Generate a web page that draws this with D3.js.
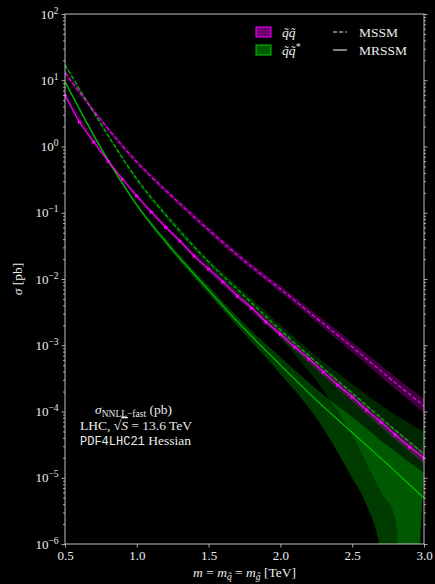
<!DOCTYPE html>
<html>
<head>
  <meta charset='utf-8'>
  <title>Cross sections</title>
  <script src="https://cdnjs.cloudflare.com/ajax/libs/d3/7.8.5/d3.min.js"></script>
  <style>
    body { margin: 0; background: #000; }
    svg { display: block; background: #000; }
    .lbl { fill: #ececec; font-family: 'Liberation Serif', serif; }
  </style>
</head>
<body>
  <svg id="chart" width="435" height="584"></svg>
  <script>
    // mass grid (TeV) shared by most of the curves
    const massGrid = [0.5, 0.75, 1.0, 1.25, 1.5, 1.75, 2.0, 2.25, 2.5, 2.75, 3.0];
    // finer grid for the MRSSM squark-squark curve (it carries markers)
    const massFine = [0.5, 0.6, 0.7, 0.8, 0.9, 1.0, 1.1, 1.2, 1.3, 1.4, 1.5, 1.6, 1.7,
                      1.8, 1.9, 2.0, 2.1, 2.2, 2.3, 2.4, 2.5, 2.6, 2.7, 2.8, 2.9, 3.0];

    // squark-squark, MRSSM (solid magenta), pb
    const sqsqMRSSM = [5.99, 2.34, 1.17, 0.604, 0.323, 0.179, 0.103, 0.0610, 0.0375, 0.0222,
                       0.0142, 0.00902, 0.00553, 0.00365, 0.00224, 0.00148, 9.42e-4, 6.20e-4,
                       3.94e-4, 2.51e-4, 1.66e-4, 1.05e-4, 6.95e-5, 4.42e-5, 2.91e-5, 1.99e-5];
    const sqsqMRSSMHi = [6.53, 0.918, 0.195, 0.0521, 0.0158, 0.0050, 0.00167, 5.68e-4, 1.94e-4, 6.58e-5, 2.45e-5];
    const sqsqMRSSMLo = [5.49, 0.771, 0.164, 0.0438, 0.0128, 0.00405, 0.00131, 4.30e-4, 1.42e-4, 4.65e-5, 1.62e-5];

    // squark-squark, MSSM (dashed magenta)
    const sqsqMSSM = [13.0, 2.51, 0.583, 0.173, 0.0550, 0.0187, 0.00706, 0.00258, 9.4e-4, 3.32e-4, 1.21e-4];
    const sqsqMSSMHi = [14.2, 2.74, 0.636, 0.189, 0.0611, 0.0208, 0.00797, 0.00296, 1.12e-3, 4.09e-4, 1.54e-4];
    const sqsqMSSMLo = [11.9, 2.30, 0.534, 0.159, 0.0495, 0.0168, 0.00625, 0.00225, 7.90e-4, 2.69e-4, 9.48e-5];

    // squark-antisquark, MSSM (dashed green)
    const sqasMSSM = [17.0, 2.19, 0.323, 0.070, 0.0181, 0.00553, 0.00170, 5.58e-4, 1.90e-4, 6.5e-5, 2.28e-5];
    const sqasMSSMHi = [18.2, 2.34, 0.347, 0.0778, 0.0200, 0.00637, 0.00202, 6.89e-4, 2.60e-4, 1.05e-4, 4.91e-5];
    const sqasMSSMLoMass = [0.5, 0.75, 1.0, 1.25, 1.5, 1.75, 2.0, 2.25, 2.5, 2.7, 2.8, 2.9];
    const sqasMSSMLo = [15.8, 2.04, 0.291, 0.0631, 0.0157, 0.00466, 0.00129, 2.88e-4, 4.42e-5, 6.1e-6, 2.47e-6, 0];

    // squark-antisquark, MRSSM (solid green)
    const sqasMRSSM = [9.5, 0.949, 0.131, 0.0274, 0.00682, 0.00176, 5.03e-4, 1.49e-4, 4.82e-5, 1.56e-5, 4.94e-6];
    const sqasMRSSMHi = [10.1, 1.02, 0.140, 0.0304, 0.00783, 0.00209, 6.65e-4, 2.19e-4, 8.26e-5, 3.01e-5, 1.18e-5];
    const sqasMRSSMLoMass = [0.5, 0.75, 1.0, 1.25, 1.5, 1.75, 2.0, 2.25, 2.5, 2.6, 2.7, 2.8];
    const sqasMRSSMLo = [9.08, 0.885, 0.122, 0.0247, 0.00594, 0.00148, 3.68e-4, 7.98e-5, 9.9e-6, 3.88e-6, 6.6e-7, 0];

    const xTicks = [0.5, 1.0, 1.5, 2.0, 2.5, 3.0];
    const yExps = [2, 1, 0, -1, -2, -3, -4, -5, -6];

    const magenta = '#ff00ff';
    const green = '#00c800';

    const pL = 65, pR = 424, pT = 14, pB = 544;

    const svg = d3.select('#chart');
    const x = d3.scaleLinear().domain([0.5, 3.0]).range([pL, pR]);
    const y = d3.scaleLog().domain([1e-6, 1e2]).range([pB, pT]);
    // values <= 0 are pushed far below the frame (clipped, like a log axis does)
    const yv = v => v > 0 ? y(v) : y(1e-12);

    svg.append('clipPath').attr('id', 'plotClip')
      .append('rect').attr('x', pL).attr('y', pT)
      .attr('width', pR - pL).attr('height', pB - pT);

    const plot = svg.append('g').attr('clip-path', 'url(#plotClip)');

    const line = d3.line()
      .x(d => x(d[0]))
      .y(d => yv(d[1]))
      .curve(d3.curveMonotoneX);

    function band(hiM, hi, loM, lo, fill, op) {
      const up = line(d3.zip(hiM, hi));
      const dn = line(d3.zip(loM, lo).reverse());
      plot.append('path')
        .attr('d', up + 'L' + dn.slice(1) + 'Z')
        .attr('fill', fill)
        .attr('fill-opacity', op);
    }

    function curve(m, v, color, dash) {
      plot.append('path')
        .attr('d', line(d3.zip(m, v)))
        .attr('fill', 'none')
        .attr('stroke', color)
        .attr('stroke-width', 1.1)
        .attr('stroke-dasharray', dash);
    }

    // uncertainty bands
    band(massGrid, sqasMRSSMHi, sqasMRSSMLoMass, sqasMRSSMLo, green, 0.3);
    band(massGrid, sqasMSSMHi, sqasMSSMLoMass, sqasMSSMLo, green, 0.2);
    band(massGrid, sqsqMSSMHi, massGrid, sqsqMSSMLo, magenta, 0.25);
    band(massGrid, sqsqMRSSMHi, massGrid, sqsqMRSSMLo, magenta, 0.25);

    // central values
    curve(massGrid, sqasMSSM, green, '4,2.2');
    curve(massGrid, sqasMRSSM, green, null);
    curve(massGrid, sqsqMSSM, magenta, '4,2.2');
    curve(massFine, sqsqMRSSM, magenta, null);

    plot.selectAll('path.mk')
      .data(d3.zip(massFine, sqsqMRSSM))
      .join('path')
      .attr('class', 'mk')
      .attr('transform', d => `translate(${x(d[0])},${y(d[1])})`)
      .attr('d', 'M-1.4,-2.3L2.3,0L-1.4,2.3Z')
      .attr('fill', magenta);

    // axes
    const fmtExp = d => Math.round(Math.log10(d));
    const majors = yExps.map(e => Math.pow(10, e));
    const minors = [];
    yExps.slice(1).forEach(e => {
      for (let k = 2; k <= 9; k++) minors.push(k * Math.pow(10, e));
    });

    function styleAxis(g) {
      g.selectAll('.tick line').attr('stroke', '#d4d4d4').attr('stroke-width', 0.8);
      g.selectAll('.domain').remove();
    }

    const yAxis = svg.append('g').attr('transform', `translate(${pL},0)`)
      .call(d3.axisLeft(y).tickValues(majors).tickSize(3.5).tickPadding(3).tickFormat(fmtExp))
      .call(styleAxis);
    yAxis.selectAll('.tick text').each(function (d) {
      const t = d3.select(this);
      t.text(null).attr('class', 'lbl').attr('font-size', 13).attr('fill', '#ececec');
      t.append('tspan').text('10');
      t.append('tspan').attr('dy', -5).attr('font-size', 9.5).text(String(fmtExp(d)).replace('-', '\u2212'));
    });
    svg.append('g').attr('transform', `translate(${pL},0)`)
      .call(d3.axisLeft(y).tickValues(minors).tickSize(2).tickFormat(''))
      .call(styleAxis);

    svg.append('g').attr('transform', `translate(${pR},0)`)
      .call(d3.axisRight(y).tickValues(majors).tickSize(3.5).tickFormat(''))
      .call(styleAxis);
    svg.append('g').attr('transform', `translate(${pR},0)`)
      .call(d3.axisRight(y).tickValues(minors).tickSize(2).tickFormat(''))
      .call(styleAxis);

    const xAxis = svg.append('g').attr('transform', `translate(0,${pB})`)
      .call(d3.axisBottom(x).tickValues(xTicks).tickSize(3.5).tickPadding(3).tickFormat(d3.format('.1f')))
      .call(styleAxis);
    xAxis.selectAll('.tick text').attr('class', 'lbl').attr('font-size', 13).attr('fill', '#ececec');

    // frame
    svg.append('rect')
      .attr('x', pL).attr('y', pT)
      .attr('width', pR - pL).attr('height', pB - pT)
      .attr('fill', 'none').attr('stroke', '#d4d4d4').attr('stroke-width', 0.9);

    // axis titles
    const xt = svg.append('text').attr('class', 'lbl').attr('font-size', 13.5)
      .attr('x', (pL + pR) / 2).attr('y', 577).attr('text-anchor', 'middle');
    xt.append('tspan').attr('font-style', 'italic').text('m');
    xt.append('tspan').text(' = ');
    xt.append('tspan').attr('font-style', 'italic').text('m');
    xt.append('tspan').attr('font-style', 'italic').attr('font-size', 9.5).attr('dy', 2.5).text('q\u0303');
    xt.append('tspan').attr('dy', -2.5).text(' = ');
    xt.append('tspan').attr('font-style', 'italic').text('m');
    xt.append('tspan').attr('font-style', 'italic').attr('font-size', 9.5).attr('dy', 2.5).text('g\u0303');
    xt.append('tspan').attr('dy', -2.5).text(' [TeV]');

    const yt = svg.append('text').attr('class', 'lbl').attr('font-size', 13.5)
      .attr('transform', `translate(22,${(pT + pB) / 2}) rotate(-90)`)
      .attr('text-anchor', 'middle');
    yt.append('tspan').attr('font-style', 'italic').text('\u03c3');
    yt.append('tspan').text(' [pb]');

    // annotation
    const a1 = svg.append('text').attr('class', 'lbl').attr('font-size', 13.5).attr('x', 95).attr('y', 414);
    a1.append('tspan').attr('font-style', 'italic').text('\u03c3');
    a1.append('tspan').attr('font-size', 9.5).attr('dy', 3).text('NNLL\u2212fast');
    a1.append('tspan').attr('dy', -3).text(' (pb)');

    const a2 = svg.append('text').attr('class', 'lbl').attr('font-size', 13.5).attr('x', 80).attr('y', 430);
    a2.append('tspan').text('LHC, \u221a');
    a2.append('tspan').attr('font-style', 'italic').attr('text-decoration', 'overline').text('S');
    a2.append('tspan').text(' = 13.6 TeV');

    const a3 = svg.append('text').attr('class', 'lbl').attr('font-size', 13.5).attr('x', 80).attr('y', 445);
    a3.append('tspan').attr('font-family', 'Liberation Mono, monospace').attr('font-size', 12).text('PDF4LHC21');
    a3.append('tspan').text(' Hessian');

    // legend
    const leg = svg.append('g');
    [[magenta, 'q\u0303q\u0303', ''], [green, 'q\u0303q\u0303', '*']].forEach((r, i) => {
      const yy = 32 + i * 18;
      leg.append('rect').attr('x', 256).attr('y', yy - 5).attr('width', 15).attr('height', 10)
        .attr('fill', r[0]).attr('fill-opacity', 0.45).attr('stroke', r[0]).attr('stroke-width', 1);
      const t = leg.append('text').attr('class', 'lbl').attr('font-size', 13.5)
        .attr('x', 282).attr('y', yy + 5).attr('font-style', 'italic');
      t.append('tspan').text(r[1]);
      if (r[2]) t.append('tspan').attr('dy', -5).attr('font-size', 9.5).text(r[2]);
    });
    [['MSSM', '4,2.2'], ['MRSSM', null]].forEach((r, i) => {
      const yy = 32 + i * 18;
      leg.append('line').attr('x1', 333).attr('x2', 347).attr('y1', yy).attr('y2', yy)
        .attr('stroke', '#ececec').attr('stroke-width', 1.1).attr('stroke-dasharray', r[1]);
      leg.append('text').attr('class', 'lbl').attr('font-size', 13.5)
        .attr('x', 359).attr('y', yy + 5).text(r[0]);
    });
  </script>
</body>
</html>
